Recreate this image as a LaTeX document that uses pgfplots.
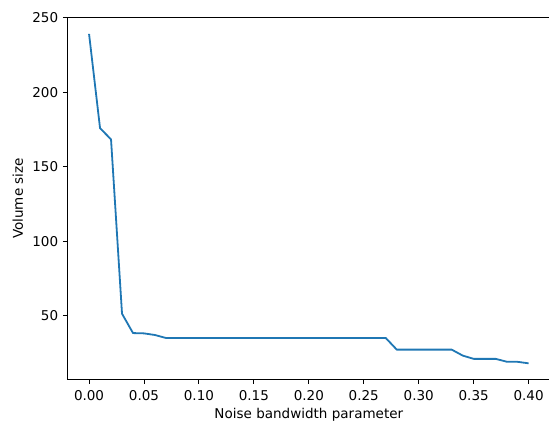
\documentclass[border=0pt]{standalone}
\usepackage{fontspec}
\setmainfont{DejaVu Sans}
\usepackage{pgfplots}
\pgfplotsset{compat=1.18}
\definecolor{mplblue}{HTML}{1F77B4}
\begin{document}
\fontsize{13.5}{16}\selectfont
\begin{tikzpicture}
\begin{axis}[
  scale only axis,
  width=483pt, height=362pt,
  xmin=-0.02, xmax=0.42,
  ymin=7.2, ymax=250.4,
  xtick={0,0.05,0.1,0.15,0.2,0.25,0.3,0.35,0.4},
  ytick={50,100,150,200,250},
  xticklabel style={yshift=-1.5pt,/pgf/number format/.cd,fixed,fixed zerofill,precision=2},
  /pgf/number format/assume math mode=true,
  tick align=outside,
  xtick pos=bottom, ytick pos=left,
  major tick length=4.2pt,
  axis line style={line width=0.95pt},
  every tick/.style={black, line width=0.95pt},
  xlabel={Noise bandwidth parameter},
  ylabel={Volume size},
  xlabel style={yshift=1pt},
  ticklabel style={font=\fontsize{13.5}{16}\selectfont},
  label style={font=\fontsize{13.5}{16}\selectfont},
]
\coordinate (bl) at (rel axis cs:0,0);
\coordinate (tr) at (rel axis cs:1,1);
\addplot[mplblue, line width=1.8pt, line join=round] coordinates {
(0.00,239.3)(0.01,176.0)(0.02,168.5)(0.03,51.5)(0.04,38.5)(0.05,38.3)
(0.06,37.2)(0.07,35.2)(0.08,35.2)(0.09,35.2)(0.10,35.2)(0.11,35.2)
(0.12,35.2)(0.13,35.2)(0.14,35.2)(0.15,35.2)(0.16,35.2)(0.17,35.2)
(0.18,35.2)(0.19,35.2)(0.20,35.2)(0.21,35.2)(0.22,35.2)(0.23,35.2)
(0.24,35.2)(0.25,35.2)(0.26,35.2)(0.27,35.2)(0.28,27.4)(0.29,27.4)
(0.30,27.4)(0.31,27.4)(0.32,27.4)(0.33,27.4)(0.34,23.4)(0.35,21.2)
(0.36,21.2)(0.37,21.2)(0.38,19.3)(0.39,19.2)(0.40,18.2)
};
\end{axis}
\pgfresetboundingbox
\path ([xshift=-67pt,yshift=-41pt]bl) rectangle ([xshift=-1.6pt,yshift=17.3pt]tr);
\end{tikzpicture}
\end{document}
